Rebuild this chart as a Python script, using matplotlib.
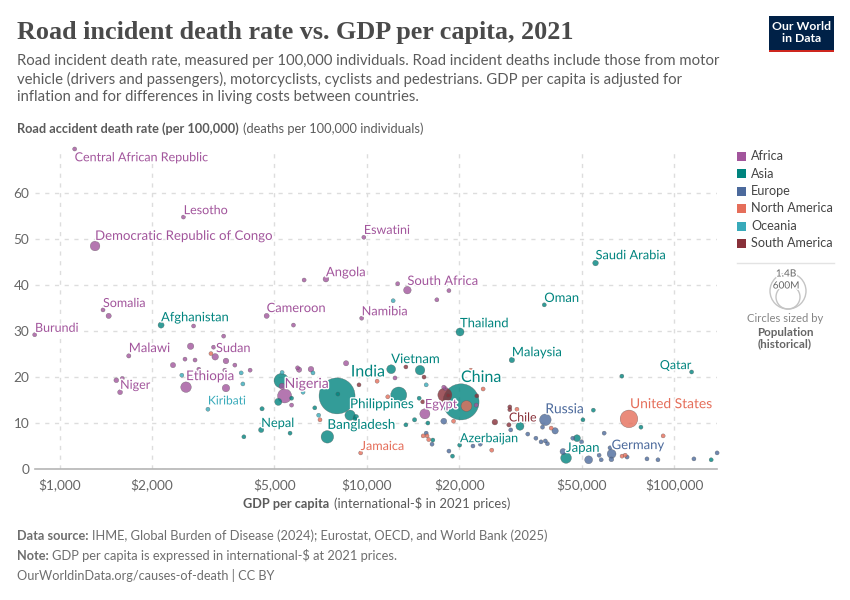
import numpy as np
import matplotlib
matplotlib.use('Agg')
import matplotlib.pyplot as plt
import matplotlib.patheffects as pe
from matplotlib.patches import Circle, Rectangle

plt.rcParams['font.family'] = ['Lato', 'DejaVu Sans']

continents = ['Africa', 'Asia', 'Europe', 'North America', 'Oceania', 'South America']
colors = {'Africa': '#A2559C', 'Asia': '#00847E', 'Europe': '#4C6A9C',
          'North America': '#E56E5A', 'Oceania': '#38AABA', 'South America': '#883039'}

# gdp per capita, death rate, population (millions)
africa_gdp = [1120, 2530, 1305, 9780, 6250, 7360, 1385, 1445, 4720, 13550, 12600, 18500, 16900, 9620,
              830, 2730, 5770, 3420, 2670, 3170, 3210, 1680, 2340, 2560, 2760, 3480, 3720, 4170,
              2580, 3480, 1530, 1600, 1574, 2840, 3450, 5300, 5950, 6020, 6580, 8560, 5400, 5690,
              12350, 17800, 22700, 15450, 18000]
africa_rate = [69.6, 54.8, 48.5, 50.4, 41.1, 41.3, 34.6, 33.3, 33.3, 38.9, 40.3, 38.8, 36.8, 32.8,
               29.2, 31.1, 31.3, 28.9, 26.7, 26.5, 24.4, 24.6, 22.6, 23.9, 23.7, 23.5, 22.6, 21.5,
               17.8, 17.6, 19.3, 19.7, 16.7, 21.7, 21.5, 18.0, 22.0, 21.6, 21.7, 23.0, 15.9, 13.9,
               19.8, 17.8, 13.9, 12.0, 17.5]
africa_pop = [18, 18, 100, 18, 18, 36, 18, 30, 28, 62, 18, 18, 18, 18,
              18, 18, 18, 18, 45, 18, 46, 20, 30, 18, 18, 35, 18, 18,
              120, 60, 25, 18, 26, 18, 18, 40, 18, 30, 35, 30, 215, 18,
              18, 18, 18, 110, 18]

asia_gdp = [2140, 4560, 4530, 3980, 5625, 5270, 5690, 5150, 8000, 8050, 6770, 8820, 9220, 9150, 7440,
            29650, 67600, 114000, 14900, 12000, 12700, 14800, 14300, 15800, 13400, 20250, 31500, 54600,
            50500, 78000, 48300, 16400, 20050, 19000, 44500, 132000, 55500, 37800, 20100]
asia_rate = [31.3, 13.1, 8.5, 7.0, 7.8, 19.2, 15.4, 14.6, 15.9, 16.3, 13.3, 11.7, 11.3, 10.9, 7.0,
             23.7, 20.2, 21.1, 21.5, 21.7, 16.1, 15.4, 10.7, 10.0, 9.6, 14.6, 9.3, 12.8,
             10.7, 9.1, 6.7, 6.3, 5.2, 2.8, 2.4, 2.0, 44.8, 35.7, 29.8]
asia_pop = [40, 20, 30, 18, 18, 230, 18, 55, 1400, 18, 18, 115, 30, 18, 170,
            32, 18, 18, 98, 85, 275, 18, 20, 18, 18, 1410, 70, 18,
            18, 18, 52, 18, 18, 18, 125, 18, 35, 18, 70]

europe_gdp = [17800, 29400, 38100, 37300, 41000, 33400, 35500, 36900, 38100, 38700, 59200, 46800, 50000,
              15600, 16300, 22150, 23400, 18500, 43500, 52700, 57000, 57900, 61850, 62600, 62500,
              70300, 81600, 88600, 116000, 138000]
europe_rate = [10.4, 8.5, 10.7, 9.1, 8.3, 7.6, 6.7, 5.9, 6.1, 5.5, 7.8, 6.7, 5.9,
               7.8, 5.4, 5.0, 5.4, 3.9, 3.8, 2.0, 3.0, 2.0, 4.6, 3.3, 2.1,
               2.6, 2.2, 2.0, 2.2, 3.5]
europe_pop = [38, 18, 145, 18, 44, 18, 18, 18, 18, 18, 18, 18, 18,
              18, 18, 18, 18, 18, 40, 68, 18, 18, 18, 84, 25,
              18, 18, 18, 18, 18]

namerica_gdp = [3110, 7040, 9550, 10800, 11700, 21800, 23900, 21100, 19150, 30800, 39800, 71300, 92100,
                15250, 15700, 15900, 25500, 67700, 69300]
namerica_rate = [25.1, 10.7, 3.5, 19.1, 15.7, 21.5, 17.4, 13.7, 10.4, 13.0, 8.9, 10.9, 7.2,
                 7.2, 7.2, 6.4, 4.1, 2.8, 3.0]
namerica_pop = [18, 18, 18, 18, 18, 18, 18, 127, 18, 18, 18, 337, 18,
                18, 18, 18, 18, 18, 18]

oceania_gdp = [12180, 3900, 2500, 3950, 3040, 5300, 6680, 6200, 6970, 15600]
oceania_rate = [36.6, 20.9, 20.4, 18.5, 13.0, 21.0, 20.9, 16.7, 11.7, 18.3]
oceania_pop = [18, 18, 18, 18, 18, 18, 18, 18, 18, 18]

samerica_gdp = [9430, 13400, 15350, 15200, 17950, 22800, 18400, 26100, 29200, 29200, 29000]
samerica_rate = [18.3, 22.2, 20.0, 14.6, 16.1, 15.9, 16.0, 10.2, 13.5, 12.9, 9.6]
samerica_pop = [18, 18, 18, 18, 215, 18, 18, 35, 18, 18, 20]

all_gdp = {'Africa': africa_gdp, 'Asia': asia_gdp, 'Europe': europe_gdp, 'North America': namerica_gdp,
           'Oceania': oceania_gdp, 'South America': samerica_gdp}
all_rate = {'Africa': africa_rate, 'Asia': asia_rate, 'Europe': europe_rate, 'North America': namerica_rate,
            'Oceania': oceania_rate, 'South America': samerica_rate}
all_pop = {'Africa': africa_pop, 'Asia': asia_pop, 'Europe': europe_pop, 'North America': namerica_pop,
           'Oceania': oceania_pop, 'South America': samerica_pop}

# name, gdp, rate where the label sits, continent, font px, alignment
labels = [('Central African Republic', 1120, 67.8, 'Africa', 12.5, 'left'),
          ('Lesotho', 2535, 56.3, 'Africa', 12.5, 'left'),
          ('Democratic Republic of Congo', 1305, 50.7, 'Africa', 13.2, 'left'),
          ('Eswatini', 9780, 52, 'Africa', 12.5, 'left'),
          ('Angola', 7360, 42.8, 'Africa', 13, 'left'),
          ('South Africa', 13550, 40.9, 'Africa', 13, 'left'),
          ('Saudi Arabia', 55500, 46.5, 'Asia', 12.8, 'left'),
          ('Oman', 37800, 37.2, 'Asia', 13, 'left'),
          ('Somalia', 1385, 36.1, 'Africa', 12.5, 'left'),
          ('Cameroon', 4720, 35, 'Africa', 12.9, 'left'),
          ('Namibia', 9620, 34.3, 'Africa', 12.7, 'left'),
          ('Afghanistan', 2140, 33, 'Asia', 12.9, 'left'),
          ('Thailand', 20100, 31.7, 'Asia', 13, 'left'),
          ('Burundi', 832, 30.7, 'Africa', 12.5, 'left'),
          ('Malawi', 1680, 26.3, 'Africa', 13, 'left'),
          ('Sudan', 3230, 26.3, 'Africa', 12.7, 'left'),
          ('Malaysia', 29650, 25.4, 'Asia', 13, 'left'),
          ('Vietnam', 12000, 23.9, 'Asia', 13.2, 'left'),
          ('India', 8870, 21, 'Asia', 16, 'left'),
          ('Qatar', 114000, 22.6, 'Asia', 12.5, 'right'),
          ('Ethiopia', 2580, 20.2, 'Africa', 13.4, 'left'),
          ('China', 20250, 19.8, 'Asia', 16, 'left'),
          ('Nigeria', 5400, 18.5, 'Africa', 14, 'left'),
          ('Niger', 1574, 18.3, 'Africa', 12.5, 'left'),
          ('United States', 71860, 14.1, 'North America', 13.8, 'left'),
          ('Philippines', 8816, 14.1, 'Asia', 13.4, 'left'),
          ('Egypt', 15450, 14.1, 'Africa', 12.8, 'left'),
          ('Kiribati', 3040, 14.8, 'Oceania', 12, 'left'),
          ('Russia', 38100, 13, 'Europe', 13.8, 'left'),
          ('Chile', 29000, 11.1, 'South America', 12.4, 'left'),
          ('Nepal', 4530, 10, 'Asia', 12.8, 'left'),
          ('Bangladesh', 7440, 9.6, 'Asia', 13.5, 'left'),
          ('Germany', 62600, 5.2, 'Europe', 13.1, 'left'),
          ('Japan', 44500, 4.6, 'Asia', 13.2, 'left'),
          ('Azerbaijan', 20100, 6.7, 'Asia', 12.6, 'left'),
          ('Jamaica', 9550, 5, 'North America', 12.6, 'left')]

xticks = [1000, 2000, 5000, 10000, 20000, 50000, 100000]
xticklabels = ['$1,000', '$2,000', '$5,000', '$10,000', '$20,000', '$50,000', '$100,000']
yticks = [0, 10, 20, 30, 40, 50, 60]

W, H = 850, 600
PX = 0.72
fig = plt.figure(figsize=(8.5, 6), dpi=100)
fig.patch.set_facecolor('white')


def ftext(x, y, s, size, color='#5b5b5b', weight='normal', ha='left', **kw):
    fig.text(x / W, 1 - y / H, s, fontsize=size * PX, color=color, fontweight=weight,
             ha=ha, va='center', **kw)


ax = fig.add_axes([35 / W, (H - 469) / H, 682 / W, 320 / H])
ax.set_xscale('log')
ax.set_xlim(832, 137900)
ax.set_ylim(0, 69.6)
for s in ['top', 'right', 'left']:
    ax.spines[s].set_visible(False)
ax.spines['bottom'].set_color('#b5b5b5')
ax.spines['bottom'].set_linewidth(1.2)
ax.set_xticks(xticks)
ax.set_xticklabels(xticklabels)
ax.minorticks_off()
ax.set_yticks(yticks)
ax.tick_params(axis='both', length=0, labelsize=13 * PX * 1.05, labelcolor='#666666')
ax.tick_params(axis='x', pad=7)
ax.tick_params(axis='y', pad=4)
ax.grid(True, color='#dddddd', linestyle=(0, (3, 4)), linewidth=1)
ax.set_axisbelow(True)

# big circles first so the small ones stay visible
gdp, rate, pop, cols = [], [], [], []
for c in continents:
    gdp += all_gdp[c]
    rate += all_rate[c]
    pop += all_pop[c]
    cols += [colors[c]] * len(all_gdp[c])
gdp = np.array(gdp)
rate = np.array(rate)
pop = np.array(pop)
order = np.argsort(-pop)
ax.scatter(gdp[order], rate[order], s=pop[order] * 0.48, c=[cols[i] for i in order],
           alpha=0.8, edgecolors='#555555', linewidths=0.25, clip_on=False, zorder=3)

for name, x, y, c, size, ha in labels:
    ax.text(x, y, name, color=colors[c], fontsize=size * PX, ha=ha, va='center', zorder=5,
            path_effects=[pe.withStroke(linewidth=2, foreground='white')])

# title and notes
fig.text(17 / W, 1 - 32 / H, 'Road incident death rate vs. GDP per capita, 2021', fontsize=26.1 * PX,
         family='Liberation Serif', fontweight='bold', color='#4a4a4a', va='center')
ftext(17, 61, 'Road incident death rate, measured per 100,000 individuals. Road incident deaths include those from motor', 14.85)
ftext(17, 79, 'vehicle (drivers and passengers), motorcyclists, cyclists and pedestrians. GDP per capita is adjusted for', 14.85)
ftext(17, 97, 'inflation and for differences in living costs between countries.', 14.85)

ftext(17, 129, 'Road accident death rate (per 100,000)', 12.8, weight='bold')
ftext(243, 129, '(deaths per 100,000 individuals)', 12.9)
ftext(243, 504, 'GDP per capita', 12.8, weight='bold')
ftext(334, 504, '(international-$ in 2021 prices)', 13)

ftext(17, 536, 'Data source:', 12.7, color='#6e6e6e', weight='bold')
ftext(92, 536, 'IHME, Global Burden of Disease (2024); Eurostat, OECD, and World Bank (2025)', 12.9, color='#6e6e6e')
ftext(17, 556, 'Note:', 12.7, color='#6e6e6e', weight='bold')
ftext(52, 556, 'GDP per capita is expressed in international-$ at 2021 prices.', 12.9, color='#6e6e6e')
ftext(17, 576, 'OurWorldinData.org/causes-of-death | CC BY', 12.75, color='#6e6e6e')

# overlay in pixel units for legend and logo
ov = fig.add_axes([0, 0, 1, 1], zorder=-1)
ov.set_xlim(0, W)
ov.set_ylim(H, 0)
ov.axis('off')
ov.add_patch(Rectangle((769, 16), 65, 36, color='#002147', lw=0))
ov.add_patch(Rectangle((769, 49.5), 65, 2.5, color='#ce261e', lw=0))
ftext(801.5, 27, 'Our World', 12.3, color='white', weight='bold', ha='center', zorder=10)
ftext(801.5, 39, 'in Data', 12.3, color='white', weight='bold', ha='center', zorder=10)

for i, c in enumerate(continents):
    yy = 156 + i * 17.5
    ov.add_patch(Rectangle((737, yy - 4.5), 9, 9, color=colors[c], lw=0))
    ftext(751, yy, c, 12.6, color='#444444')

ov.plot([737, 834], [263, 263], color='#e3e3e3', lw=1)
ov.add_patch(Circle((788, 291), 18, fill=False, ec='#c4c4c4', lw=1))
ov.add_patch(Circle((788, 297), 12, fill=False, ec='#c4c4c4', lw=1))
halo = [pe.withStroke(linewidth=2, foreground='white')]
ftext(786, 274, '1.4B', 10, color='#666666', ha='center', path_effects=halo)
ftext(786, 286, '600M', 10, color='#666666', ha='center', path_effects=halo)
ftext(785, 318, 'Circles sized by', 11.3, color='#858585', ha='center')
ftext(785, 332, 'Population', 11.6, color='#666666', weight='bold', ha='center')
ftext(785, 344, '(historical)', 11.6, color='#666666', weight='bold', ha='center')

fig.savefig('out.png', dpi=100)
